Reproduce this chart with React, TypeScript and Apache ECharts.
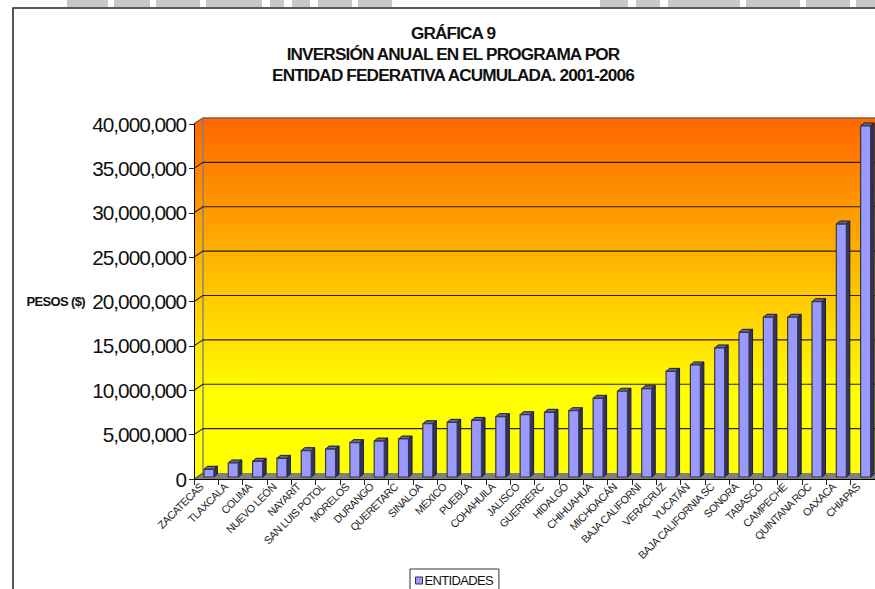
import React, { useEffect, useRef } from "react";
import * as echarts from "echarts";

const categories = ["ZACATECAS", "TLAXCALA", "COLIMA", "NUEVO LEÓN", "NAYARIT", "SAN LUIS POTOL", "MORELOS", "DURANGO", "QUERETARC", "SINALOA", "MÉXICO", "PUEBLA", "COHAHUILA", "JALISCO", "GUERRERC", "HIDALGO", "CHIHUAHUA", "MICHOACÁN", "BAJA CALIFORNI", "VERACRUZ", "YUCATÁN", "BAJA CALIFORNIA SC", "SONORA", "TABASCO", "CAMPECHE", "QUINTANA ROC", "OAXACA", "CHIAPAS"];
const values = [870000, 1580000, 1770000, 2100000, 2970000, 3150000, 3870000, 4050000, 4280000, 6000000, 6160000, 6380000, 6800000, 7020000, 7290000, 7470000, 8870000, 9660000, 9950000, 11900000, 12620000, 14540000, 16300000, 18000000, 18000000, 19750000, 28500000, 39550000];
const gridValues = [5000000, 10000000, 15000000, 20000000, 25000000, 30000000, 35000000];
const titleText = "GRÁFICA 9\nINVERSIÓN ANUAL EN EL PROGRAMA POR\nENTIDAD FEDERATIVA ACUMULADA. 2001-2006";
const seriesName = "ENTIDADES";
const yName = "PESOS ($)";
const topScraps = [[67, 108], [114, 150], [156, 200], [206, 262], [270, 284], [292, 310], [318, 352], [358, 392], [600, 628], [636, 660], [668, 740], [746, 800], [806, 850], [856, 875]];

const DX = 9;
const DY = 6;

export default function App() {
  const ref = useRef<HTMLDivElement>(null);
  useEffect(() => {
    document.body.style.margin = "0";
    const chart = echarts.init(ref.current!, null, { renderer: "svg" });
    const wallFill = () =>
      new echarts.graphic.LinearGradient(0, 118, 0, 473, [
        { offset: 0, color: "#FF6600" },
        { offset: 0.78, color: "#FFFF00" },
        { offset: 1, color: "#FFFF00" },
      ], true);
    chart.setOption({
      animation: false,
      backgroundColor: "#fff",
      title: {
        text: titleText,
        left: 448,
        top: 17,
        textAlign: "center",
        textStyle: { fontFamily: "Liberation Sans", fontSize: 17.2, fontWeight: "bold", color: "#111", lineHeight: 21 },
      },
      legend: {
        data: [seriesName],
        left: 410,
        top: 569,
        padding: [5, 0, 8, 5],
        itemWidth: 7,
        itemHeight: 7,
        icon: "rect",
        borderColor: "#333",
        borderWidth: 1,
        backgroundColor: "#fff",
        itemStyle: { borderColor: "#333", borderWidth: 1 },
        itemGap: 0,
        textStyle: { fontFamily: "Liberation Sans", fontSize: 13, color: "#111", padding: [0, 0, 0, -3] },
      },
      grid: { left: 194, top: 124, width: 682, height: 355 },
      graphic: [
        ...topScraps.map(([a, b]) => ({ type: "rect", z: -10, shape: { x: a, y: -2, width: b - a, height: 9 }, style: { fill: "#c8c8c8" } })),
        { type: "rect", z: -9, shape: { x: 13, y: 8, width: 900, height: 620 }, style: { fill: "#fff", stroke: "#222", lineWidth: 1.5 } },
      ],
      xAxis: {
        type: "category",
        data: categories,
        z: 10,
        boundaryGap: true,
        axisLine: { lineStyle: { color: "#000", width: 1 } },
        axisTick: { show: true, length: 6, alignWithLabel: false, lineStyle: { color: "#222" }, interval: 0 },
        axisLabel: { interval: 0, rotate: 45, margin: 1, padding: [0, 7, 0, 0], fontFamily: "Liberation Sans", fontSize: 10.8, color: "#222" },
      },
      yAxis: {
        type: "value",
        min: 0,
        max: 40000000,
        interval: 5000000,
        z: 10,
        name: yName,
        nameLocation: "middle",
        nameRotate: 0,
        nameGap: 109,
        nameMoveOverlap: false,
        nameTextStyle: { fontFamily: "Liberation Sans", fontSize: 13, fontWeight: "bold", color: "#111" },
        splitLine: { show: false },
        axisLine: { show: true, lineStyle: { color: "#000", width: 1 } },
        axisTick: { show: true, length: 5, lineStyle: { color: "#222" } },
        axisLabel: {
          margin: 8,
          fontFamily: "Liberation Sans",
          fontSize: 20.8,
          color: "#111",
          formatter: (v: number) => v.toLocaleString("en-US"),
        },
      },
      series: [
        {
          type: "custom",
          name: "wall",
          z: 1,
          silent: true,
          clip: false,
          data: [[0, 0]],
          renderItem: (params: any, api: any) => {
            const cs = params.coordSys;
            const x0 = cs.x;
            const yTop = cs.y;
            const yBot = cs.y + cs.height;
            const xR = cs.x + cs.width + DX;
            return {
              type: "group",
              children: [
                { type: "polygon", shape: { points: [[x0 + DX, yTop - DY], [xR, yTop - DY], [xR, yBot - DY], [x0 + DX, yBot - DY]] }, style: { fill: wallFill() } },
                { type: "polygon", shape: { points: [[x0, yTop], [x0 + DX, yTop - DY], [x0 + DX, yBot - DY], [x0, yBot]] }, style: { fill: wallFill() } },
                { type: "polygon", shape: { points: [[x0, yBot], [x0 + DX, yBot - DY], [xR, yBot - DY], [xR, yBot]] }, style: { fill: "#808080" } },
                { type: "polyline", shape: { points: [[x0, yTop], [x0 + DX, yTop - DY], [xR, yTop - DY]] }, style: { fill: "none", stroke: "#806048", lineWidth: 1.6 } },
                { type: "line", shape: { x1: x0 + DX, y1: yTop - DY, x2: x0 + DX, y2: yBot - DY }, style: { stroke: "#808080", lineWidth: 1.4 } },
                { type: "line", shape: { x1: x0, y1: yBot, x2: x0 + DX, y2: yBot - DY }, style: { stroke: "#333", lineWidth: 1 } },
              ],
            };
          },
        },
        {
          type: "custom",
          name: "gridlines",
          z: 2,
          silent: true,
          clip: false,
          data: gridValues.map((v) => [0, v]),
          renderItem: (params: any, api: any) => {
            const cs = params.coordSys;
            const p = api.coord([0, api.value(1)]);
            const y = p[1];
            return {
              type: "polyline",
              shape: { points: [[cs.x, y], [cs.x + DX, y - DY], [cs.x + cs.width + DX, y - DY]] },
              style: { fill: "none", stroke: "#2a2000", lineWidth: 1.2 },
            };
          },
        },
        {
          type: "custom",
          name: seriesName,
          z: 3,
          clip: false,
          itemStyle: { color: "#9999FF" },
          data: values.map((v, i) => [i, v]),
          encode: { x: 0, y: 1 },
          renderItem: (params: any, api: any) => {
            const p = api.coord([api.value(0), api.value(1)]);
            const base = api.coord([api.value(0), 0]);
            const l = p[0] - 2.2;
            const w = 10;
            const t = p[1] - 2;
            const b = base[1] - 2;
            const sx = 3.5;
            const sy = 3;
            return {
              type: "group",
              children: [
                { type: "polygon", shape: { points: [[l, t], [l + sx, t - sy], [l + w + sx, t - sy], [l + w, t]] }, style: { fill: "#666699", stroke: "#1a1a33", lineWidth: 1 } },
                { type: "polygon", shape: { points: [[l + w, t], [l + w + sx, t - sy], [l + w + sx, b - sy], [l + w, b]] }, style: { fill: "#333366", stroke: "#1a1a33", lineWidth: 1 } },
                { type: "rect", shape: { x: l, y: t, width: w, height: b - t }, style: { fill: "#9999FF", stroke: "#3a3a3a", lineWidth: 1.2 } },
              ],
            };
          },
        },
      ],
    });
    return () => chart.dispose();
  }, []);
  return (
    <>
      <style>{`#chart text { letter-spacing: -0.05em; }`}</style>
      <div id="chart" ref={ref} style={{ position: "absolute", left: 0, top: 0, width: 875, height: 589, overflow: "hidden" }} />
    </>
  );
}
